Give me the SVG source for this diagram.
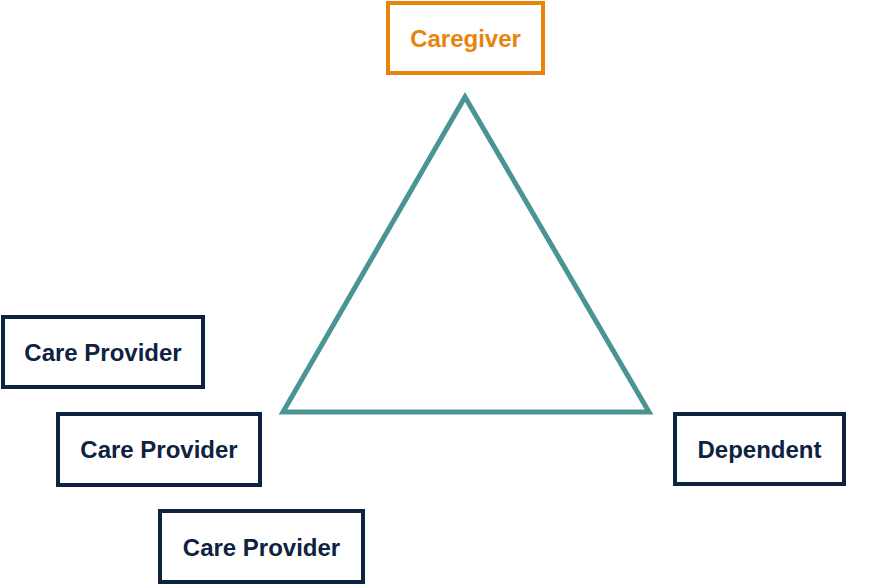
<svg xmlns="http://www.w3.org/2000/svg" width="890" height="586" viewBox="0 0 890 586">
<style>
.box{fill:#fff;stroke:#0e2241;stroke-width:4}
.lbl{font-family:"Liberation Sans",Arial,sans-serif;font-weight:bold;font-size:24px;fill:#0e2241;text-anchor:middle;dominant-baseline:central}
.cg .box{stroke:#e8830c}
.cg .lbl{fill:#e8830c}
</style>
<rect width="890" height="586" fill="#fff"/>
<g id="connectors">
<polygon points="465,97 283,412 649,412" fill="none" stroke="#4a9494" stroke-width="5" stroke-linejoin="miter"/>
</g>
<g id="caregiver" class="cg">
<rect class="box" x="388" y="3" width="155" height="70"/>
<text class="lbl" x="465.5" y="38">Caregiver</text>
</g>
<g id="provider1">
<rect class="box" x="3" y="317" width="200" height="70"/>
<text class="lbl" x="103" y="352">Care Provider</text>
</g>
<g id="provider2">
<rect class="box" x="58" y="414" width="202" height="71"/>
<text class="lbl" x="159" y="449.5">Care Provider</text>
</g>
<g id="provider3">
<rect class="box" x="160" y="511" width="203" height="71"/>
<text class="lbl" x="261.5" y="547">Care Provider</text>
</g>
<g id="dependent">
<rect class="box" x="675" y="414" width="169" height="70"/>
<text class="lbl" x="759.5" y="449.5">Dependent</text>
</g>
</svg>
